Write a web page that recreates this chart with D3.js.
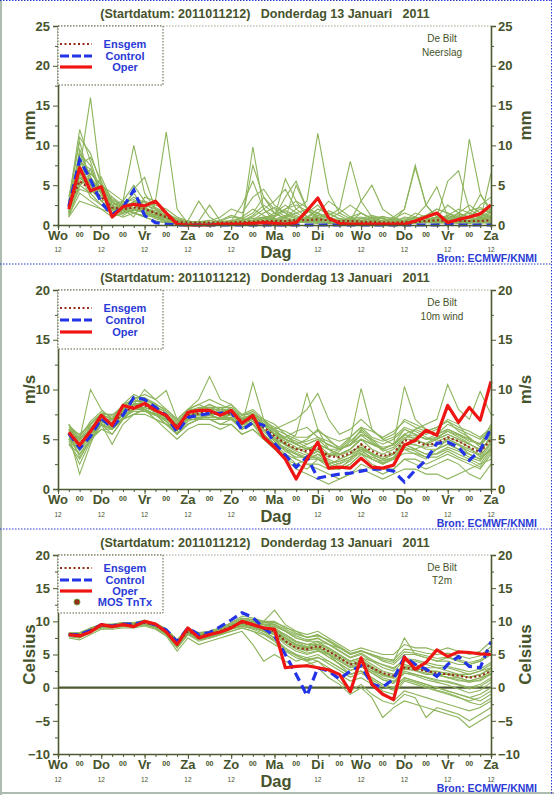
<!DOCTYPE html>
<html><head><meta charset="utf-8">
<script src="https://cdn.jsdelivr.net/npm/d3@7"></script>
<style>body{margin:0;background:#fff}svg{display:block}text{font-family:"Liberation Sans",Arial,Helvetica,sans-serif}</style>
</head><body><svg id="c" width="554" height="795"></svg>
<script>
// ---------- DATA ----------
const hours = [6,12,18,24,30,36,42,48,54,60,66,72,78,84,90,96,102,108,114,120,126,132,138,144,150,156,162,168,174,180,186,192,198,204,210,216,222,228,234,240];
const dayLabels = ["Wo","Do","Vr","Za","Zo","Ma","Di","Wo","Do","Vr","Za"];
const dayHours = [0,24,48,72,96,120,144,168,192,216,240];
const hour12Labels = [0,24,48,72,96,144,168,192,216,240];
const midnightHours = [12,36,60,84,108,132,156,180,204,228];
const titleText = "(Startdatum: 2011011212)   Donderdag 13 Januari   2011";
const sourceText = "Bron: ECMWF/KNMI";

// Precipitation (mm)
const precipOper = [2.0,7.2,4.3,4.8,1.0,2.3,2.6,2.4,3.0,1.5,0.1,0,0,0,0.1,0.1,0.1,0.2,0.3,0.2,0.1,0.3,1.8,3.4,0.9,0.2,0.1,0.1,0.1,0.1,0.1,0.1,0.5,1.0,1.5,0.3,0.7,1.0,1.4,2.5];
const precipControl = [2.3,8.2,5.7,2.8,1.3,2.2,4.4,1.2,0.3,0.1,0,0,0,0,0,0,0,0,0,0,0,0,0,0,0,0,0,0,0,0,0,0,0,0,0,0.1,0,0,0,0];
const precipMean = [2.5,5.5,4.5,3.5,2.2,2.0,2.2,2.0,1.5,1.0,0.4,0.3,0.3,0.3,0.3,0.3,0.4,0.4,0.5,0.5,0.5,0.6,0.6,0.7,0.6,0.5,0.5,0.4,0.4,0.3,0.3,0.4,0.4,0.5,0.6,0.5,0.5,0.5,0.5,0.6];
const precipMembers = [
[1.5,9.5,6,3,2,1.5,3,2.5,1,0.5,0.2,0.1,0,0.1,0.2,0.5,1,2,1.2,0.5,0.3,0.8,1.5,2.5,1,0.5,0.3,0.2,0.5,1,0.8,0.4,0.6,1.2,2,1.5,0.8,0.5,1,1.8],
[3,12,8,4,2.5,3,10,4,2,1,0.5,0.3,0.2,0.1,0.1,0.2,0.5,0.3,0.2,0.5,1,2,3,11.5,4,1.5,0.8,0.5,0.3,0.2,0.1,0.1,0.3,0.5,1,0.5,0.3,1,2,1.5],
[2,7,16,5,3,1.5,2,1.5,1,0.5,0.1,0,0.5,2.5,0.5,0.1,0,0.2,0.5,1,5.8,3,1,0.5,0.3,0.2,0.5,1.5,0.8,0.3,0.2,0.1,0.5,0.3,0.2,0.4,0.3,0.2,0.5,0.8],
[1,5,4,6,3,2,1,3.5,3,11.7,2,0.2,0.1,0,0,0.1,0.3,0.5,0.8,1.5,2.5,1.5,0.8,0.5,1.2,2,8,3,1,0.5,0.3,0.2,0.4,0.3,0.5,0.8,0.4,0.3,0.2,0.5],
[2.5,8,7,4,1.5,2.5,4,2,1.5,1,0.3,0.5,3,1,0.2,0.1,0.3,9.8,2,0.5,0.8,5,2,1,0.5,0.3,0.2,0.4,0.3,0.5,1,2,7.5,2.5,1,0.5,0.3,0.5,0.8,1.2],
[1.2,4,3,2,1,1.5,2.5,1.5,0.8,0.4,0.1,0.2,0.4,0.3,0.2,0.5,0.8,1.5,3.5,2,1,0.5,0.3,0.2,0.8,1.5,2.5,1.5,0.8,0.5,0.3,0.5,1,2.5,4.8,1,0.5,10.8,4,1.5],
[3.5,10.5,5,3,2,2,1.5,1,0.5,0.3,0.2,0.1,0.3,0.5,1,2,1.5,3.5,4.5,2.5,1.5,1,0.5,0.3,0.2,0.1,0.2,0.5,1,0.8,0.5,0.3,0.2,0.5,1,5.5,6.8,2,1,0.5],
[2,6.5,5.5,4.5,3,2,1.8,2.5,2,1.5,0.5,0.2,0.1,0.2,0.5,0.3,0.2,0.5,1,1.2,2,2.5,1.8,1,0.5,0.3,0.8,0.5,0.2,0.1,0.3,1,0.8,0.5,0.3,0.2,0.5,0.8,2.5,3.5],
[1.8,8.5,4,2.5,1.5,3,5,3,1.5,0.8,0.3,0.5,0.2,0.1,0.2,0.1,0.3,0.2,0.5,0.8,0.5,0.3,0.5,1.5,3,2,1,0.5,0.3,0.2,0.2,0.5,1.5,1,0.5,0.3,0.2,0.3,0.5,6.5],
[2.2,5,6.5,5,3.5,2,1.5,1.2,1,0.8,0.2,0.1,0.2,0.1,0.1,0.3,0.5,1,2,3,4.5,2,1,0.5,0.3,0.3,0.5,0.8,1.2,0.8,0.5,0.3,0.2,0.3,0.5,1,0.8,0.5,0.3,0.2],
[1.5,7,5,3.5,2.5,1.8,2.8,2,1.5,1,0.5,0.3,0.2,0.1,0.2,0.3,0.2,0.1,0.3,0.5,0.3,0.2,0.8,2,1.5,0.8,0.5,3,5,2,1,0.5,0.3,0.5,1,2.5,1.5,1,0.5,0.3],
[2.8,9,6,4,2,2.5,3.5,2.8,2.2,1.5,0.8,0.3,0.1,0,0,0,0.1,0.3,0.5,0.3,0.2,0.5,1,1.5,1,0.5,0.3,0.2,0.1,0.3,0.8,1.5,1,0.5,0.3,0.5,1,1.5,1,2.5],
[1,3,2.5,2,1.5,1,1.5,1,0.5,0.3,0.1,0.1,0.2,0.3,0.2,0.1,0.2,0.5,0.8,0.5,0.3,0.2,0.5,0.8,0.5,0.3,0.2,0.3,0.5,0.3,0.2,0.5,0.8,0.5,0.3,0.8,1.5,2.5,1.5,1],
[2.5,11,9,5,3,2,2.5,3,2.5,2,1,0.5,0.3,0.2,0.5,1,0.8,0.5,0.3,0.5,1,1.5,2,1.5,0.8,0.5,0.8,1,0.5,0.3,0.2,0.3,0.5,1.2,2,1.5,1,0.8,1.5,2],
[2,6,4.5,3,2,1.2,2,1.8,1.2,0.8,0.3,0.2,0.1,0.1,0.2,0.5,2.5,5.5,2,1,3.5,5.5,2,0.8,0.5,0.3,0.2,0.3,0.2,0.1,0.2,0.3,0.5,0.8,0.5,0.3,0.5,1.2,3.8,2],
[3,7.5,8.5,5.5,2.5,1.5,4.5,6,2,1,0.3,0.2,0.1,0.2,0.3,0.2,0.5,7.5,3.5,1.5,0.8,0.5,0.8,1,0.5,0.3,0.2,0.5,1,0.8,0.5,2,7.2,2.5,1,0.5,0.3,0.5,0.8,1.5],
[2,6,5,4,2.8,2.2,2,1.5,1.2,0.8,0.4,0.2,0.2,0.3,0.4,0.6,0.4,0.3,0.6,1,1.8,1.2,0.6,0.4,0.3,0.5,0.4,0.3,0.2,0.4,0.6,0.8,0.5,0.4,0.6,0.9,1.2,0.8,0.6,1],
[1.5,5.5,7,4,2,1.8,2.2,2,1.8,1.2,0.6,0.4,0.3,0.2,0.1,0.2,0.3,0.6,1.5,2.2,1.5,0.8,0.4,0.6,1.8,1.2,0.5,0.3,0.4,0.6,0.4,0.3,0.2,0.5,0.8,1.2,2,1.5,0.8,0.6],
[2.5,7.5,5,3,3.5,2.5,1.5,2,1.5,1,0.5,0.3,0.4,0.6,0.3,0.2,0.3,0.4,0.5,0.7,1.2,0.8,0.6,1.2,0.8,0.5,1,1.5,0.8,0.4,0.3,0.4,0.6,1,1.4,0.8,0.6,0.4,0.8,1.2],
[1.8,4.5,4,5,4,3,2.5,2,1,0.6,0.3,0.2,0.1,0.1,0.3,0.4,0.6,0.8,1,0.8,0.6,0.4,0.3,0.5,0.6,0.8,0.6,0.4,0.3,0.2,0.3,0.5,0.8,1.2,0.8,0.6,0.4,0.6,1,1.5],
[3,8,6.5,5,2,1.5,1.8,2.2,1.6,1.2,0.8,0.5,0.3,0.2,0.2,0.3,0.5,1.2,2.5,1.5,0.8,0.6,0.5,0.4,0.3,0.4,0.6,0.8,0.6,0.5,0.4,0.3,0.4,0.6,0.5,0.4,0.8,1.8,2.2,1.6],
[2.2,6.5,3.5,2.5,1.8,2.8,3.2,2.5,2,1.2,0.4,0.3,0.2,0.2,0.1,0.1,0.2,0.4,0.8,1.2,2,3,2.2,1.4,0.8,0.5,0.3,0.4,0.6,0.4,0.3,0.6,1,0.8,0.6,1.2,0.8,0.5,0.4,0.8],
[1.2,9,7.5,3.8,2.2,2,3,2.2,1.4,1,0.4,0.2,0.1,0.3,0.6,1.2,0.8,0.5,0.4,0.3,0.4,0.6,1,2,1.4,0.8,0.5,0.3,0.2,0.3,0.5,0.4,0.3,0.6,1,0.7,0.5,0.4,0.6,0.9],
[2.6,5,6,4.2,3.2,2.4,2.6,1.6,1.3,0.9,0.6,0.4,0.3,0.2,0.3,0.2,0.4,0.6,0.9,0.6,0.4,0.3,0.6,0.9,0.6,0.4,0.3,0.5,0.8,1.1,0.7,0.5,0.4,0.3,0.6,0.9,1.4,1,0.7,1.1]
];

// 10m wind (m/s)
const windOper = [5.7,4.4,5.8,7.4,6.4,8.4,8.1,8.6,7.9,7.4,6.1,7.7,7.9,7.9,7.4,7.9,6.6,7.4,5.2,4.2,3.0,1.0,3.0,4.7,2.1,2.2,2.1,3.1,2.2,2.1,2.4,4.4,4.9,5.9,5.4,8.4,6.7,8.2,6.9,10.8];
const windControl = [5.6,4.1,5.3,7.1,6.2,7.4,9.2,9.0,8.2,7.4,5.7,7.2,7.4,7.6,7.6,7.8,5.9,6.7,6.4,4.6,3.4,2.2,3.2,1.1,1.3,1.5,1.6,1.8,2.0,2.0,1.8,0.7,1.9,2.9,4.6,4.7,4.2,2.9,3.9,6.1];
const windMean = [5.5,4.5,5.8,7.0,6.5,7.6,8.3,8.4,7.9,7.3,6.3,7.4,7.6,7.7,7.5,7.6,6.8,7.1,6.2,5.3,4.6,4.0,3.8,4.1,3.3,3.2,3.6,4.5,3.8,3.3,3.6,4.9,4.8,4.4,4.6,5.2,4.8,4.2,3.7,5.0];
const windMembers = [
[6,4,6.5,7.5,7,8,9,8.5,8,7.5,6.5,8,8.5,9,8.5,8,7,7.5,6.5,6,5,4.5,5,6,5,4,4.5,6,5,4,3.5,5,6,5.5,6,7,6.5,5,4.5,6],
[5,3.5,5,6.5,6,7,8,9,8.5,7,6,7,8,8.5,8,7.5,6.5,7,5.5,4.5,3.5,2.5,2,3,2.5,2,3,4,3,2.5,3,4,3.5,3,4,5,4.5,3.5,3,4],
[5.5,1.5,4.5,7,6.5,7,8,9,7.5,7,6,7.5,7,7.5,7,8,7,7.5,7,6,6.5,7,8,9.6,7,5.5,6,7,6,5,5.5,7,6.5,6,5.5,6,5.5,5,4.5,5.5],
[6.5,5,10,8,7,8.5,9,9.5,9,8,7,8,8,8.5,8,8.5,7.5,8,7,6.5,5.5,5,4.5,5,4.5,4,5,10.1,6,5,4.5,6,5.5,5,5,6,5.5,5,4.5,5.5],
[4.5,3,5,6,5.5,7,7.5,8,7.5,6.5,5.5,6.5,7,7,6.5,7,6,6.5,5.5,4.5,3,2,1.5,1,0.5,1,1.5,2.5,2,1.5,2,3,2.5,2,2.5,3,2.5,1.5,1,2.5],
[5,4.5,6,7,6,8,8.5,10,9,9.9,7,8,9,11.3,9,8.5,7,7.5,6,5,4,3.5,3,3.5,3,2.5,3,4,3.5,3,3.5,4.5,4,4.5,5,5.5,5,4.5,4,5],
[6,5,6,7.5,7.5,8,8.5,8,7.5,7,6.5,7.5,7.5,7.5,7,7,6.5,10.7,7,5.5,5,4.5,4,4.5,4,3.5,4,5,4.5,4,4.5,10.3,7,6,5.5,6.5,6,5.5,5,6],
[5.5,4,5.5,6.5,4.5,6.5,7.5,8,7,6.5,6,7,7.5,7.5,7.5,7,6.5,7,6,5,4.5,5.5,9.6,6,4,3,3.5,4.5,3.5,3,3,4,4,3.5,4,4.5,4,3.5,3,4.5],
[6,5,6.5,7.5,7,8,8.5,8.5,8,7.5,6.5,7.5,8,8,7.5,8,7,7.5,6.5,6,5.5,4.5,4,4,3.5,3.5,4,5,4.5,4,4.5,5.5,6,6.5,7,10.5,8,7,9.8,7.5],
[5,4,5.5,7,6.5,7.5,8,8,7.5,6.5,5.5,6.5,7,7,6.5,6.5,5.5,6,5,4,3.5,3,2.5,2,1.5,1,1.5,2,1.5,1,1.5,2,2,1.5,1.5,1,1.5,2,2.5,3],
[6.5,4.5,6,7,7,8.5,9.5,9,8.5,8,7,8,8.5,8,8,8,7,7.5,6.5,5.5,4.5,4,4.5,5,4,4,4.5,5.5,5,4.5,5,6,5.5,5,5.5,6,5.5,5,4.5,6.5],
[5.5,5,6,6.5,6,7,7.5,7.5,7,6.5,5.5,6.5,7,7,7,7,6,6.5,5,4,3,2.5,3,3.5,2.5,2,2.5,3.5,2.5,2,2,3,3,2.5,3,3.5,3,2.5,2,3.5],
[4.5,3.5,5,6,6,7,8,8,7.5,7,6,7,7,7.5,7,7.5,6.5,7,6.5,5.5,5,4.5,4,4.5,3.5,4,4.5,5,4.5,4,4.5,5.5,5,4.5,4.5,5,4.5,4,3.5,5.5],
[6,5.5,6.5,7.5,7,8,8.5,8.5,8,7.5,6.5,7.5,7.5,7.5,7.5,7.5,7,7,6,5,4,3,2.5,2.5,2,2,2.5,3.5,3,2.5,3,4.5,4.5,4,4,4.5,4,3.5,3,4],
[5,4,5.5,6.5,5.5,7,7.5,8,7,6,5,6,6.5,6.5,6,6.5,5.5,6,5,4.5,4,3.5,3,3,2.5,3,3.5,4,3.5,3,3.5,4.5,4,3.5,3.5,4,3.5,3,2.5,4],
[5.5,4.5,5.5,7,6.5,7.5,8.5,8,7.5,7,6.5,7,7.5,7.5,7.5,7,6.5,7,6,5,4.5,4,4,4.5,4,3.5,4,5,4,3.5,4,5,5,4.5,5,5.5,5,4.5,4,5],
[6,4.8,6.2,7.2,6.8,7.8,8.8,8.8,8.2,7.8,6.8,7.6,7.8,8.2,7.8,7.8,7.2,7.4,6.8,5.8,5.2,4.8,4.2,3.8,3.2,3.8,4.8,5.8,4.8,3.8,4.2,5.2,5.2,5.8,6.2,6.8,5.8,5.2,4.2,5.8],
[5.2,3.8,5.2,6.8,6.2,7.2,8.2,8.2,7.8,6.8,5.8,7.2,7.2,7.2,7.2,7.2,6.2,6.8,5.8,4.8,3.8,3.2,3.2,3.8,2.8,2.2,2.8,3.8,3.2,2.8,3.2,4.2,3.8,3.2,3.2,3.8,3.2,2.8,2.2,3.8],
[5.8,4.2,6.2,7.2,6.6,7.8,8.6,8.6,7.6,7.2,6.2,7.2,7.8,7.8,7.6,7.4,6.6,7.2,6.4,5.6,5.2,5.8,6.2,5.2,4.8,4.2,5.2,6.2,5.2,4.8,5.2,6.2,5.8,5.2,4.8,5.2,4.8,4.2,3.2,4.8],
[4.8,2.5,4.8,6.4,6,7.2,7.8,7.8,7.4,6.8,5.6,6.8,7.2,7.4,7,7.2,6.2,6.6,5.4,4.6,4.2,3.6,3.2,3.2,2.6,2.8,3.2,3.6,3,2.6,3,3.6,3.6,3.2,3.6,4.2,3.8,3.2,2.8,4.2],
[6.2,5.2,6.8,7.8,7.2,8.2,9.2,9.2,8.6,7.8,6.8,7.8,8.2,8.2,8.2,8.2,7.4,7.8,6.8,6.2,5.8,5.2,5.2,5.8,5.2,4.8,5.2,6.2,5.8,5.2,5.8,6.8,6.2,5.8,6.2,6.8,6.2,5.8,5.2,6.2],
[5.4,4.6,5.8,6.8,6.4,7.4,8,8.2,7.8,7.2,6.2,7.2,7.4,7.6,7.4,7.4,6.4,6.8,6,5.2,4.4,3.8,3.4,3.8,3.4,3.4,3.8,4.2,3.6,3.2,3.6,4.6,4.4,4.2,4.4,4.8,4.4,3.8,3.4,4.6],
[5.6,3.2,5,6.6,6.2,7.6,8.4,8.6,8,7.4,6.4,7.4,7.6,8,7.6,7.6,6.8,7.2,6.4,5.4,4.8,4.2,3.6,3,2.2,2.6,3.2,4.2,3.4,2.6,3.2,4.4,4.8,4.6,5.2,5.8,5.2,4.6,3.8,5.2],
[6.4,5.4,6.6,7.6,7.4,8.4,8.8,9,8.4,7.6,6.6,7.8,8,8.2,7.8,8,7.4,7.6,6.6,5.8,5,4.6,4.8,5.2,4.4,4,4.4,5.4,4.6,4.2,4.4,5.4,5.4,5,5.2,5.8,5.4,4.8,4.6,5.6]
];

// 2m temperature (Celsius)
const tempOper = [8.0,7.8,8.4,9.5,9.2,9.5,9.2,10.0,9.6,8.4,6.5,9.0,7.5,8.0,8.4,9.0,10.0,9.5,9.0,8.8,3.0,3.2,3.3,3.0,2.7,2.0,-0.6,4.5,0.5,-1.0,-1.8,4.6,2.8,3.8,5.7,4.7,5.4,5.3,5.1,5.0];
const tempControl = [8.0,8.0,8.6,9.5,9.3,9.6,9.6,9.9,9.5,8.7,6.9,9.0,8.0,8.3,9.2,10.2,11.3,10.6,9.0,7.8,5.0,2.0,-1.2,3.0,2.5,1.3,2.5,3.3,0.5,0.1,1.3,4.6,3.5,2.8,1.7,3.5,4.7,3.2,3.0,6.9];
const tempMean = [8.0,8.0,8.7,9.3,9.3,9.5,9.5,9.8,9.4,8.5,6.8,8.5,7.8,8.0,8.5,9.2,9.8,9.5,9.0,8.5,7.0,6.0,5.8,6.3,5.5,4.5,3.5,3.8,3.0,2.2,1.8,3.0,2.8,2.5,2.2,2.0,1.8,1.5,1.8,2.5];
const tempMembers = [
[8,7.8,8.5,9.3,9.2,9.5,9.4,9.8,9.3,8.4,6.5,8.5,7.5,8,8.5,9,9.5,9.5,9,8.8,8,7,6.5,6.5,5.5,4.5,3.5,4,3,2,1.5,3,3,2.5,2,2,1.5,1,1.5,2.5],
[7.8,7.5,8.5,9,9,9.3,9.2,9.5,9,8,6,8,7,7.5,8,8.5,9,8.5,8,7,5,4,4.5,5,4,3,2,2.5,1.5,0.5,0,1.5,1,0.5,0,-0.5,-1,-1.5,-1,0],
[8.2,8,9,9.5,9.5,9.8,9.8,10,9.6,8.8,7.2,9,8.2,8.5,9,9.8,10.5,10.2,10,11.7,9.5,8.5,7.5,8,7,6,5,5.5,5,4.5,4,7.5,5,4.5,4,4.5,4,3.5,4,5],
[7.5,7.2,8,8.8,8.8,9,9,9.3,8.8,7.8,5.5,7.5,6.5,7,7.5,8,8.5,6.5,4,5,4,3,3.5,4,3,2,1,1.5,0.5,-1,-2,-0.5,-1,-1.5,-2,-2.5,-3,-3.5,-3,-2],
[8,8,8.8,9.5,9.3,9.5,9.6,10,9.5,8.6,6.8,8.5,8,8.5,9,9.5,10,10,9.5,9,7.5,6.5,6,6.5,6,5,4,4.5,4,3.5,3,4,4,3.5,3,3,2.5,2,2.5,3.5],
[8.2,8.3,9,9.5,9.5,9.7,9.7,10,9.7,8.8,7,8.8,8,8.2,8.8,9.5,10,9.8,9.5,9.5,8.5,7.5,7,7.5,6.5,5.5,4.5,5,4,3,2.5,4,3.5,3,3,2.5,2,2,2.5,3],
[7.9,7.8,8.6,9.2,9.2,9.4,9.3,9.7,9.2,8.2,6.2,8.2,7.2,7.5,8,8.5,9,8.5,7.5,6.5,5.5,5,4.5,4,2.5,1,-0.5,0.5,-1,-2,-2.5,-1,-1.5,-4.5,-3,-3.5,-4,-5,-4,-3],
[8.1,8.1,8.8,9.4,9.4,9.6,9.6,9.9,9.5,8.6,6.9,8.6,7.9,8.1,8.6,9.3,9.8,9.6,9.2,9,8,7,6.5,7,6,5,4,4.5,3.5,2.5,2,3.5,3,2.5,2.5,2,2,1.5,2,3],
[8,7.7,8.4,9.2,9.1,9.4,9.4,9.7,9.2,8.2,6.4,8.3,7.5,7.8,8.2,9,9.5,9.2,8.5,8,6.5,5.5,5,5.5,5,4,3,3.5,2.5,1.5,1,2.5,2,1.5,1,1,0.5,0,0.5,1.5],
[8.3,8.2,8.9,9.6,9.6,9.8,9.8,10.2,9.7,8.9,7.2,8.9,8.3,8.5,9,9.8,10.8,10.5,10,10,9,8.5,8,8.5,7.5,6.5,5.5,6,5.5,5,5,6.5,6,6,5.5,6,5.5,5,5.5,7],
[7.7,7.5,8.3,9,9,9.2,9.2,9.5,9,8,6,8,7.3,7.5,8,8.8,9.2,9,8.5,7.5,6,5,4,3,1.5,0.5,-1,0,-1.5,-4.5,-3,-2,-2.5,-3,-3.5,-4,-4.5,-6,-5,-4],
[8.1,8,8.7,9.3,9.3,9.5,9.5,9.8,9.4,8.5,6.8,8.5,7.8,8,8.5,9.2,9.8,9.5,9,8.5,7.5,6.5,6,6.5,5.5,4.5,3.5,4,3,2,1.5,3,2.5,2,2,1.5,1,1,1.5,2],
[8,8,8.6,9.3,9.2,9.5,9.5,9.8,9.3,8.5,6.6,8.4,7.7,8,8.4,9.1,9.6,9.3,8.8,8.2,7,6,5.5,6,5,4,3,3.5,2.5,2,1.5,3,3,2.5,2,1.5,1.5,1,1,2],
[7.9,7.9,8.7,9.3,9.2,9.4,9.4,9.7,9.3,8.3,6.6,8.4,7.6,7.9,8.3,9,9.6,9.2,8.7,8.3,7.5,6.5,6,6,5,3.5,2,2.5,1,-0.5,-1,1,0.5,0,-0.5,-1,-1.5,-2,-1.5,-0.5],
[8.2,8.1,8.8,9.4,9.4,9.6,9.6,9.9,9.5,8.7,7,8.7,8,8.2,8.7,9.3,10,9.8,9.5,9.2,8.5,7.5,7,7,6.5,6,5,5.5,5,4,3.5,5,5,4.5,4,4,3.5,3.5,4,5],
[8,7.9,8.6,9.2,9.2,9.4,9.4,9.7,9.3,8.4,6.7,8.4,7.7,7.9,8.4,9,9.4,9,8.5,7.5,5.5,4.5,4,4.5,4,3,2,2.5,1.5,0.5,0,1.5,1,0.5,0,-0.5,-1,-1.5,-2,-1],
[7.9,7.8,8.6,9.3,9.2,9.5,9.5,9.8,9.4,8.5,6.7,8.5,7.8,8,8.5,9.2,9.8,9.6,9.2,8.8,7.8,6.8,6.2,6.8,5.8,4.8,3.8,4.2,3.2,2.2,1.8,3.2,3,2.6,2.4,2.2,1.8,1.6,2,2.8],
[8.1,7.9,8.7,9.4,9.3,9.6,9.5,9.9,9.4,8.6,6.9,8.6,7.9,8.2,8.6,9.3,10.2,10,9.6,9.4,8.6,7.8,7.2,7.4,6.6,5.6,4.6,5.2,4.2,3.4,2.8,4.4,4.2,3.8,3.4,3.2,2.8,2.4,2.8,3.8],
[7.8,7.6,8.4,9.1,9.1,9.3,9.3,9.6,9.1,8.1,6.3,8.2,7.4,7.7,8.2,8.9,9.3,8.8,8.2,7.2,5.8,4.8,4.2,4.6,3.6,2.6,1.6,2.2,1.2,0.2,-0.4,1.2,0.8,0.2,-0.4,-0.8,-1.4,-2.2,-2.6,-1.6],
[8.2,8.1,8.8,9.5,9.4,9.7,9.6,10,9.6,8.7,7,8.7,8.1,8.3,8.8,9.4,10.2,10.2,9.8,9.8,9.2,8.2,7.6,7.8,7.2,6.2,5.2,5.6,4.8,4.2,3.8,5.4,5.2,4.8,4.4,4.6,4.2,3.8,4.2,5.6],
[8,7.9,8.6,9.3,9.2,9.4,9.4,9.8,9.3,8.4,6.6,8.4,7.6,7.9,8.4,9.1,9.6,9.3,8.8,8.4,7.2,6.2,5.6,5.8,4.6,3.6,2.6,3.2,2.2,1.2,0.6,2.2,1.8,1.2,0.8,0.4,-0.2,-0.8,-0.4,0.8],
[8.1,8,8.7,9.4,9.3,9.6,9.5,9.9,9.5,8.6,6.8,8.6,7.9,8.1,8.6,9.2,9.8,9.6,9.1,8.6,7.4,6.4,5.8,6.2,5.2,4.2,3.2,3.8,2.8,1.8,1.4,2.8,2.6,2.2,1.8,1.6,1.2,0.8,1.2,2.2],
[7.8,7.7,8.5,9.2,9.1,9.4,9.3,9.7,9.2,8.3,6.4,8.3,7.5,7.8,8.3,9,9.6,9.2,8.6,8,6.8,5.8,5.2,5.6,4.6,3.6,2.6,3.2,2.2,1.2,0.8,2.2,2,1.6,1.2,0.8,0.4,-0.2,0.2,1.2],
[8.2,8.2,8.9,9.5,9.5,9.7,9.7,10.1,9.6,8.8,7.1,8.8,8.2,8.4,8.9,9.6,10.4,10.3,9.8,9.6,8.8,8,7.6,8,7,6,5,5.6,5,4.4,4.2,5.8,5.6,5.2,5,5.2,4.8,4.4,4.8,6.2]
];

// ---------- DRAW ----------
const svg = d3.select("#c");
const INK = "#46532b", AX = "#4d5a31", GREEN = "#8db45c", BLUE = "#2233e8", RED = "#ee1512", MEAN = "#9a2d18", LBLUE = "#2b3bd6";
const x = d3.scaleLinear().domain([0,240]).range([58,491]);

// page frame
svg.append("line").attr("x1",1).attr("x2",1).attr("y1",0).attr("y2",795).attr("stroke","#aebbb0").attr("stroke-width",2);
svg.append("line").attr("x1",0).attr("x2",554).attr("y1",793).attr("y2",793).attr("stroke","#aebbb0").attr("stroke-width",2);
[0.5,264,529].forEach(yy=>svg.append("line").attr("x1",0).attr("x2",552).attr("y1",yy).attr("y2",yy).attr("stroke",LBLUE).attr("stroke-dasharray","1.5,1.5"));
svg.append("line").attr("x1",551.5).attr("x2",551.5).attr("y1",0).attr("y2",795).attr("stroke",LBLUE).attr("stroke-dasharray","1.5,1.5");

const panels = [
  {dom:[0,25], top:26, bottom:225, ticks:[0,5,10,15,20,25], minor:[2.5,7.5,12.5,17.5,22.5], unit:"mm",
   name:"Neerslag", members:precipMembers, mean:precipMean, control:precipControl, oper:precipOper,
   legH:59, legY:[18,30,41], mos:false, zero:false, lab12:27, bron:37, infoY:[16,30]},
  {dom:[0,20], top:290, bottom:489, ticks:[0,5,10,15,20], minor:[2.5,7.5,12.5,17.5], unit:"m/s",
   name:"10m wind", members:windMembers, mean:windMean, control:windControl, oper:windOper,
   legH:59, legY:[18,30,42], mos:false, zero:false, lab12:28, bron:38, infoY:[16,30]},
  {dom:[-10,20], top:555, bottom:754, ticks:[-10,-5,0,5,10,15,20], minor:[-7.5,-2.5,2.5,7.5,12.5,17.5], unit:"Celsius",
   name:"T2m", members:tempMembers, mean:tempMean, control:tempControl, oper:tempOper,
   legH:58, legY:[13,25,36,47], mos:true, zero:true, lab12:28, bron:38, infoY:[16,29]}
];

panels.forEach(p=>{
  const g = svg.append("g");
  const y = d3.scaleLinear().domain(p.dom).range([p.bottom,p.top]);
  const line = d3.line().x((d,i)=>x(hours[i])).y(d=>y(d));

  // title
  g.append("text").attr("x",265).attr("y",p.top-8).attr("text-anchor","middle")
    .attr("font-size",12.5).attr("font-weight","bold").attr("fill",INK).style("white-space","pre").text(titleText);

  // top dotted border
  g.append("line").attr("x1",x(0)).attr("x2",x(240)).attr("y1",p.top).attr("y2",p.top)
    .attr("stroke","#9aa890").attr("stroke-dasharray","1.5,1.5");

  // zero line
  if(p.zero) g.append("line").attr("x1",x(0)).attr("x2",x(240)).attr("y1",y(0)).attr("y2",y(0)).attr("stroke",AX).attr("stroke-width",2.2);

  // members
  g.append("g").selectAll("path").data(p.members).join("path")
    .attr("d",line).attr("fill","none").attr("stroke",GREEN).attr("stroke-width",1.1);

  // mean, control, oper
  g.append("path").attr("d",line(p.mean)).attr("fill","none").attr("stroke",MEAN).attr("stroke-width",2.2).attr("stroke-dasharray","2,2.5");
  g.append("path").attr("d",line(p.control)).attr("fill","none").attr("stroke",BLUE).attr("stroke-width",3.2).attr("stroke-dasharray","9,5");
  g.append("path").attr("d",line(p.oper)).attr("fill","none").attr("stroke",RED).attr("stroke-width",3.2).attr("stroke-linejoin","round");

  // axes
  const yl = d3.axisLeft(y).tickValues(p.ticks).tickSize(5).tickFormat(d3.format("d"));
  const yr = d3.axisRight(y).tickValues(p.ticks).tickSize(5).tickFormat(d3.format("d"));
  const styleAx = sel => { sel.select(".domain").attr("stroke",AX).attr("stroke-width",1.6);
    sel.selectAll(".tick line").attr("stroke",AX);
    sel.selectAll(".tick text").attr("fill",INK).attr("font-size",13).attr("font-weight","bold").attr("font-family","Liberation Sans, Arial, sans-serif"); };
  const gl = g.append("g").attr("transform",`translate(${x(0)},0)`).call(yl).call(styleAx);
  gl.selectAll(".tick text").attr("x",-8);
  const gr = g.append("g").attr("transform",`translate(${x(240)},0)`).call(yr).call(styleAx);
  gr.selectAll(".tick text").attr("x",7);
  g.append("g").attr("transform",`translate(${x(0)},0)`).call(d3.axisLeft(y).tickValues(p.minor).tickSize(3).tickFormat(""))
    .call(s=>{s.select(".domain").remove(); s.selectAll(".tick line").attr("stroke",AX);});
  g.append("g").attr("transform",`translate(${x(240)},0)`).call(d3.axisRight(y).tickValues(p.minor).tickSize(3).tickFormat(""))
    .call(s=>{s.select(".domain").remove(); s.selectAll(".tick line").attr("stroke",AX);});

  // bottom axis
  g.append("g").attr("transform",`translate(0,${p.bottom})`).call(d3.axisBottom(x).tickValues(hours).tickSize(3).tickFormat(""))
    .call(s=>{s.select(".domain").attr("stroke",AX).attr("stroke-width",1.6); s.selectAll(".tick line").attr("stroke",AX);});
  g.append("g").attr("transform",`translate(0,${p.bottom})`).call(d3.axisBottom(x).tickValues(dayHours).tickSize(5).tickFormat(""))
    .call(s=>{s.select(".domain").remove(); s.selectAll(".tick line").attr("stroke",AX);});

  // day labels
  g.selectAll(".day").data(dayLabels).join("text").attr("x",(d,i)=>x(dayHours[i])).attr("y",p.bottom+15)
    .attr("text-anchor","middle").attr("font-size",13).attr("font-weight","bold").attr("fill",INK).text(d=>d);
  g.selectAll(".mid").data(midnightHours).join("text").attr("x",d=>x(d)).attr("y",p.bottom+12)
    .attr("text-anchor","middle").attr("font-size",7).attr("font-weight","bold").attr("fill",INK).text("00");
  g.selectAll(".h12").data(hour12Labels).join("text").attr("x",d=>x(d)).attr("y",p.bottom+p.lab12)
    .attr("text-anchor","middle").attr("font-size",6.5).attr("fill",INK).text("12");
  g.append("text").attr("x",276).attr("y",p.bottom+33).attr("text-anchor","middle").attr("font-size",16.5).attr("font-weight","bold").attr("fill",INK).text("Dag");
  g.append("text").attr("x",537).attr("y",p.bottom+p.bron).attr("text-anchor","end").attr("font-size",10.5).attr("font-weight","bold").attr("fill",LBLUE).text(sourceText);

  // unit labels
  const cy = (p.top+p.bottom)/2;
  g.append("text").attr("transform",`translate(35,${cy}) rotate(-90)`).attr("text-anchor","middle").attr("font-size",17).attr("font-weight","bold").attr("fill",INK).text(p.unit);
  g.append("text").attr("transform",`translate(531,${cy}) rotate(-90)`).attr("text-anchor","middle").attr("font-size",17).attr("font-weight","bold").attr("fill",INK).text(p.unit);

  // station info
  g.append("text").attr("x",442).attr("y",p.top+p.infoY[0]).attr("text-anchor","middle").attr("font-size",10).attr("fill",INK).text("De Bilt");
  g.append("text").attr("x",442).attr("y",p.top+p.infoY[1]).attr("text-anchor","middle").attr("font-size",10).attr("fill",INK).text(p.name);

  // legend
  g.append("rect").attr("x",x(0)).attr("y",p.top).attr("width",105).attr("height",p.legH).attr("fill","#fff")
    .attr("stroke","#55603a").attr("stroke-dasharray","1.5,1.5");
  const names = ["Ensgem","Control","Oper"].concat(p.mos?["MOS TnTx"]:[]);
  names.forEach((n,i)=>{
    const ly = p.top + p.legY[i];
    if(i===0) g.append("line").attr("x1",60).attr("x2",92).attr("y1",ly).attr("y2",ly).attr("stroke",MEAN).attr("stroke-width",2.2).attr("stroke-dasharray","2,2.5");
    if(i===1) g.append("line").attr("x1",60).attr("x2",92).attr("y1",ly).attr("y2",ly).attr("stroke",BLUE).attr("stroke-width",3.2).attr("stroke-dasharray","9,3");
    if(i===2) g.append("line").attr("x1",60).attr("x2",92).attr("y1",ly).attr("y2",ly).attr("stroke",RED).attr("stroke-width",3.2);
    if(i===3) g.append("circle").attr("cx",77).attr("cy",ly).attr("r",3).attr("fill",MEAN).attr("stroke","#6f9a4a");
    g.append("text").attr("x",125).attr("y",ly+4).attr("text-anchor","middle").attr("font-size",11).attr("font-weight","bold").attr("fill",LBLUE).text(n);
  });
});
</script></body></html>
